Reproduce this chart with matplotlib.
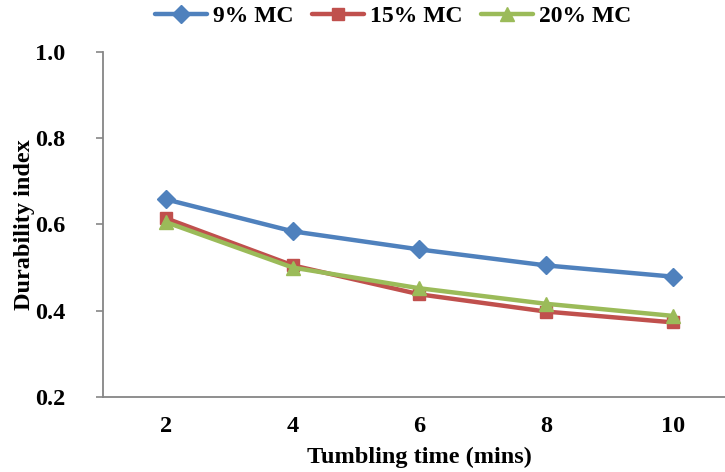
import matplotlib.pyplot as plt

# data
times = [2, 4, 6, 8, 10]
mc9 = [0.658, 0.584, 0.542, 0.505, 0.479]
mc15 = [0.614, 0.505, 0.438, 0.398, 0.373]
mc20 = [0.605, 0.500, 0.452, 0.416, 0.388]
y_ticks = [0.2, 0.4, 0.6, 0.8, 1.0]

plt.rcParams['font.family'] = ['Liberation Serif', 'DejaVu Serif']
plt.rcParams['font.weight'] = 'bold'

fig = plt.figure(figsize=(7.25, 4.72), dpi=100)
ax = fig.add_axes([0.142, 0.159, 0.873, 0.731])

series = [
    (mc9, '9% MC', '#4F81BD', 'D', 9),
    (mc15, '15% MC', '#C0504D', 's', 8),
    (mc20, '20% MC', '#9BBB59', '^', 10),
]
for vals, name, col, mk, ms in series:
    ax.plot(times, vals, color=col, lw=3.2, marker=mk, markersize=ms,
            label=name, solid_capstyle='round')

ax.set_xlim(1, 11)
ax.set_ylim(0.2, 1.0)
ax.set_xticks(times)
ax.set_xticklabels([str(t) for t in times])
ax.set_yticks(y_ticks)
ax.set_yticklabels([f'{v:.1f}' for v in y_ticks])

for s in ['top', 'right']:
    ax.spines[s].set_visible(False)
for s in ['left', 'bottom']:
    ax.spines[s].set_color('#868686')
    ax.spines[s].set_linewidth(1.3)

ax.tick_params(axis='y', length=5, width=1.2, color='#868686', pad=22, labelsize=17.5)
ax.tick_params(axis='x', length=0, pad=14, labelsize=17.5)
for lbl in ax.get_xticklabels() + ax.get_yticklabels():
    lbl.set_fontweight('bold')

ax.set_xlabel('Tumbling time (mins)', fontsize=17.5, fontweight='bold', labelpad=7)
ax.set_ylabel('Durability index', fontsize=17.5, fontweight='bold', labelpad=0)

handles, labels = ax.get_legend_handles_labels()
fig.legend(handles, labels, loc='center', bbox_to_anchor=(0.542, 0.966), ncol=3,
           frameon=False, handlelength=2.2, columnspacing=0.8,
           handletextpad=0.25, prop={'weight': 'bold', 'size': 17})

fig.savefig('out.png', dpi=100)
